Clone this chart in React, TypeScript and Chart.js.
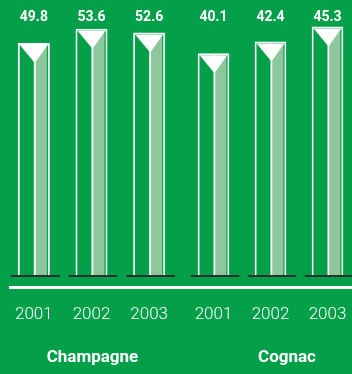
import React, { useEffect, useRef } from "react";
import { Chart, registerables } from "chart.js";

Chart.register(...registerables);

const years = ["2001", "2002", "2003"];
const champagneValues = [49.8, 53.6, 52.6];
const cognacValues = [40.1, 42.4, 45.3];
const groupNames = ["Champagne", "Cognac"];

const GREEN = "#03a049";
const LIGHT = "#8dc79b";
const WHITE = "#ffffff";
const DARK = "#2e2e2e";

const barDecor = {
  id: "barDecor",
  afterDatasetsDraw(chart: any, _args: any, opts: any) {
    const ctx = chart.ctx;
    const meta = chart.getDatasetMeta(0);
    const ds = chart.data.datasets[0];
    let baseY = 0;
    ctx.save();
    meta.data.forEach((bar: any, i: number) => {
      const { x, y, base, width } = bar.getProps(["x", "y", "base", "width"], true);
      baseY = base;
      const L = x - width / 2;
      const R = x + width / 2;
      ctx.fillStyle = LIGHT;
      ctx.fillRect(x + 2, y + 3, R - 3 - (x + 2), base - (y + 3));
      ctx.fillStyle = WHITE;
      ctx.fillRect(x, y + 2, 2, base - y - 2);
      ctx.beginPath();
      ctx.moveTo(L + 2, y + 2);
      ctx.lineTo(R - 2, y + 2);
      ctx.lineTo(x + 1, y + 20);
      ctx.closePath();
      ctx.fill();
      ctx.fillStyle = DARK;
      ctx.fillRect(L - 7, base - 1, width + 17, 2);
      ctx.fillStyle = WHITE;
      ctx.font = "bold 14px Roboto";
      ctx.textAlign = "center";
      ctx.textBaseline = "middle";
      ctx.fillText(ds.data[i].toFixed(1), x, chart.chartArea.top + 17);
    });
    ctx.fillStyle = WHITE;
    ctx.fillRect(opts.ruleStart, baseY + 10, chart.width - opts.ruleStart, 3);
    ctx.font = "bold 17px Roboto";
    ctx.textAlign = "center";
    ctx.textBaseline = "middle";
    ctx.fillText(opts.groupName, opts.groupX, 358);
    ctx.restore();
  },
};

function Panel(props: {
  values: number[];
  name: string;
  left: number;
  padLeft: number;
  padRight: number;
  yMin: number;
  yMax: number;
  ruleStart: number;
  groupX: number;
}) {
  const ref = useRef<HTMLCanvasElement>(null);
  useEffect(() => {
    const chart = new Chart(ref.current as HTMLCanvasElement, {
      type: "bar",
      data: {
        labels: years,
        datasets: [
          {
            data: props.values,
            base: props.yMin,
            backgroundColor: GREEN,
            borderColor: WHITE,
            borderWidth: 2,
            borderSkipped: "bottom",
            categoryPercentage: 1,
            barPercentage: 0.555,
          } as any,
        ],
      },
      options: {
        responsive: false,
        animation: false,
        devicePixelRatio: 1,
        layout: { padding: { left: props.padLeft, right: props.padRight, top: 0, bottom: 48.6 } },
        scales: {
          x: {
            grid: { display: false, drawTicks: true, tickLength: 29 },
            border: { display: false },
            ticks: {
              color: WHITE,
              padding: 0,
              maxRotation: 0,
              font: { family: "Roboto", size: 17, weight: "300" },
            },
          },
          y: { display: false, min: props.yMin, max: props.yMax },
        },
        plugins: {
          legend: { display: false },
          tooltip: { enabled: false },
          barDecor: { ruleStart: props.ruleStart, groupName: props.name, groupX: props.groupX },
        } as any,
      },
      plugins: [barDecor as any],
    });
    return () => chart.destroy();
  }, []);
  return (
    <canvas
      ref={ref}
      width={181}
      height={374}
      style={{ position: "absolute", left: props.left, top: 0, display: "block" }}
    />
  );
}

export default function App() {
  return (
    <div
      style={{
        position: "fixed",
        left: 0,
        top: 0,
        width: 352,
        height: 374,
        overflow: "hidden",
        background: GREEN,
      }}
    >
      <Panel values={champagneValues} name={groupNames[0]} left={0} padLeft={5} padRight={3} yMin={-12.1} yMax={61.25} ruleStart={9} groupX={92.5} />
      <Panel values={cognacValues} name={groupNames[1]} left={181} padLeft={4} padRight={6} yMin={-3.2} yMax={50.47} ruleStart={0} groupX={106} />
    </div>
  );
}
